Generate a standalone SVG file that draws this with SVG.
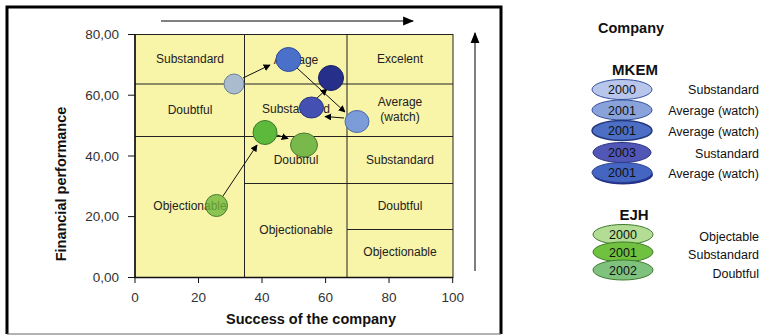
<svg xmlns="http://www.w3.org/2000/svg" width="763" height="336" viewBox="0 0 763 336">
<defs>
<marker id="ah" viewBox="0 0 10 10" refX="9" refY="5" markerWidth="7" markerHeight="7" orient="auto" markerUnits="userSpaceOnUse">
<path d="M0,0 L10,5 L0,10 z" fill="#000"/>
</marker>
<marker id="ahb" viewBox="0 0 10 10" refX="9" refY="5" markerWidth="11" markerHeight="11" orient="auto" markerUnits="userSpaceOnUse">
<path d="M0,1 L10,5 L0,9 z" fill="#000"/>
</marker>
</defs>
<style>
text{font-family:"Liberation Sans",Arial,sans-serif}
.cell{font-size:12px;fill:#222;text-anchor:middle}
.tick{font-size:13.5px;fill:#333}
.grid{stroke:#222;stroke-width:1;fill:none}
.arr{stroke:#111;stroke-width:1;fill:none;marker-end:url(#ah)}
.lg{font-size:12.5px;fill:#111;text-anchor:end}
.yr{font-size:12.5px;fill:#111;text-anchor:middle}
.bold{font-weight:bold;fill:#111}
</style>
<rect width="763" height="336" fill="#fff"/>
<!-- frame -->
<path d="M7,334 L7,7 L501,7 L501,334" fill="none" stroke="#000" stroke-width="3"/>
<line x1="7" y1="334" x2="501" y2="334" stroke="#666" stroke-width="1"/>
<!-- direction arrows -->
<line x1="161" y1="21" x2="413" y2="21" stroke="#000" stroke-width="1" marker-end="url(#ahb)"/>
<line x1="475" y1="271" x2="475" y2="33" stroke="#000" stroke-width="1" marker-end="url(#ahb)"/>
<!-- plot area -->
<g id="plot">
<rect x="135" y="34.5" width="318" height="243" fill="#f8f4a8" stroke="#222" stroke-width="1"/>
<line class="grid" x1="244.5" y1="34.5" x2="244.5" y2="277.5"/>
<line class="grid" x1="347" y1="34.5" x2="347" y2="277.5"/>
<line class="grid" x1="135" y1="84" x2="453" y2="84"/>
<line class="grid" x1="135" y1="136.5" x2="453" y2="136.5"/>
<line class="grid" x1="244.5" y1="183.5" x2="453" y2="183.5"/>
<line class="grid" x1="347" y1="229.5" x2="453" y2="229.5"/>
<line x1="135" y1="34" x2="135" y2="278" stroke="#111" stroke-width="1.5"/>
<line x1="134" y1="277.5" x2="453" y2="277.5" stroke="#111" stroke-width="1.5"/>
</g>
<g id="cells">
<text class="cell" x="190" y="63">Substandard</text>
<text class="cell" x="296" y="64">Average</text>
<text class="cell" x="400" y="63">Excelent</text>
<text class="cell" x="190" y="114">Doubtful</text>
<text class="cell" x="296" y="113">Substandard</text>
<text class="cell" x="400" y="106">Average</text>
<text class="cell" x="400" y="121">(watch)</text>
<text class="cell" x="190" y="210">Objectionable</text>
<text class="cell" x="296" y="164">Doubtful</text>
<text class="cell" x="296" y="234">Objectionable</text>
<text class="cell" x="400" y="164">Substandard</text>
<text class="cell" x="400" y="210">Doubtful</text>
<text class="cell" x="400" y="256">Objectionable</text>
</g>
<!-- axes ticks -->
<g id="yaxis" stroke="#111" stroke-width="1">
<line x1="128" y1="34.5" x2="135" y2="34.5"/>
<line x1="128" y1="95.2" x2="135" y2="95.2"/>
<line x1="128" y1="156" x2="135" y2="156"/>
<line x1="128" y1="216.6" x2="135" y2="216.6"/>
<line x1="128" y1="277.5" x2="135" y2="277.5"/>
</g>
<g id="xaxis" stroke="#111" stroke-width="1">
<line x1="135" y1="277" x2="135" y2="283"/>
<line x1="198.5" y1="277" x2="198.5" y2="283"/>
<line x1="262" y1="277" x2="262" y2="283"/>
<line x1="325.6" y1="277" x2="325.6" y2="283"/>
<line x1="389" y1="277" x2="389" y2="283"/>
<line x1="452.7" y1="277" x2="452.7" y2="283"/>
</g>
<g id="ticklabels" text-anchor="end">
<text class="tick" x="119" y="39">80,00</text>
<text class="tick" x="119" y="100">60,00</text>
<text class="tick" x="119" y="160.5">40,00</text>
<text class="tick" x="119" y="221">20,00</text>
<text class="tick" x="119" y="282">0,00</text>
</g>
<g id="xticklabels" text-anchor="middle">
<text class="tick" x="135" y="302">0</text>
<text class="tick" x="198.5" y="302">20</text>
<text class="tick" x="262" y="302">40</text>
<text class="tick" x="325.6" y="302">60</text>
<text class="tick" x="389" y="302">80</text>
<text class="tick" x="452.7" y="302">100</text>
</g>
<text class="bold" x="311" y="324" font-size="14.5" text-anchor="middle">Success  of the company</text>
<text class="bold" transform="translate(66,184) rotate(-90)" font-size="14.5" text-anchor="middle">Financial performance</text>
<!-- connectors -->
<g id="connectors">
<line class="arr" x1="243" y1="78" x2="270" y2="65"/>
<line class="arr" x1="297" y1="68" x2="345" y2="112"/>
<line class="arr" x1="344" y1="118" x2="325" y2="116.5"/>
<line class="arr" x1="317" y1="98" x2="327" y2="89"/>
<line class="arr" x1="277" y1="135" x2="288" y2="138.5"/>
<line class="arr" x1="223" y1="196" x2="257" y2="145"/>
</g>
<!-- bubbles -->
<g id="mkem2000"><ellipse cx="234" cy="84" rx="10" ry="10" fill="#a9bccf" stroke="#6d8096"/></g>
<g id="mkem2001a"><ellipse cx="288.5" cy="59.5" rx="12.5" ry="12" fill="#4b70c9" stroke="#2c4c9c"/></g>
<g id="mkem2003b"><ellipse cx="331" cy="78" rx="12.5" ry="12.5" fill="#262f8a" stroke="#171f5e"/></g>
<g id="mkem2003"><ellipse cx="311.5" cy="107.5" rx="12" ry="10.5" fill="#4551b2" stroke="#2b3683"/></g>
<g id="mkem2001b"><ellipse cx="357" cy="121.5" rx="12" ry="11" fill="#7c9bd9" stroke="#4a6aa8"/></g>
<g id="ejh2001"><ellipse cx="265" cy="132.5" rx="12" ry="12" fill="#5db93b" stroke="#3a7a2a"/></g>
<g id="ejh2002"><ellipse cx="304" cy="145" rx="13.5" ry="12" fill="#79b84a" stroke="#4a7a30"/></g>
<g id="ejh2000"><ellipse cx="216.5" cy="205.5" rx="11" ry="11" fill="#6fb83a" fill-opacity="0.8" stroke="#4a7a30"/></g>
<!-- legend -->
<g id="legend">
<text class="bold" x="598" y="33" font-size="14.5">Company</text>
<text class="bold" x="635" y="75" font-size="15" text-anchor="middle">MKEM</text>
<g id="lg1"><ellipse cx="622" cy="89.5" rx="30" ry="10" fill="#b7c6ea" stroke="#34509e"/><text class="yr" x="622" y="94">2000</text><text class="lg" x="759" y="94">Substandard</text></g>
<g id="lg2"><ellipse cx="622" cy="110" rx="30" ry="10" fill="#8aa2da" stroke="#34509e"/><text class="yr" x="622" y="114.5">2001</text><text class="lg" x="759" y="115">Average (watch)</text></g>
<g id="lg3"><ellipse cx="622" cy="130.5" rx="30" ry="10" fill="#4c6ec4" stroke="#22387e" stroke-width="1.5"/><text class="yr" x="622" y="135">2001</text><text class="lg" x="759" y="136">Average (watch)</text></g>
<g id="lg4"><ellipse cx="622" cy="152.5" rx="29" ry="10" fill="#5157b6" stroke="#2b3180"/><text class="yr" x="622" y="157">2003</text><text class="lg" x="759" y="158">Sustandard</text></g>
<g id="lg5"><ellipse cx="623" cy="174.5" rx="30" ry="10" fill="#24318a"/><ellipse cx="622" cy="172.5" rx="30" ry="10" fill="#4565c2" stroke="#2a3f8e"/><text class="yr" x="622" y="177">2001</text><text class="lg" x="759" y="178">Average (watch)</text></g>
<text class="bold" x="634" y="220" font-size="15" text-anchor="middle">EJH</text>
<g id="lg6"><ellipse cx="623" cy="234.5" rx="30" ry="10" fill="#b3dc95" stroke="#3f7a2c"/><text class="yr" x="623" y="239">2000</text><text class="lg" x="759" y="241">Objectable</text></g>
<g id="lg7"><ellipse cx="623" cy="252" rx="30" ry="10" fill="#6fc13f" stroke="#3f7a2c"/><text class="yr" x="623" y="256.5">2001</text><text class="lg" x="759" y="259">Substandard</text></g>
<g id="lg8"><ellipse cx="623" cy="270" rx="30" ry="10" fill="#7ec27e" stroke="#3f7a2c"/><text class="yr" x="623" y="274.5">2002</text><text class="lg" x="759" y="278">Doubtful</text></g>
</g>
</svg>
